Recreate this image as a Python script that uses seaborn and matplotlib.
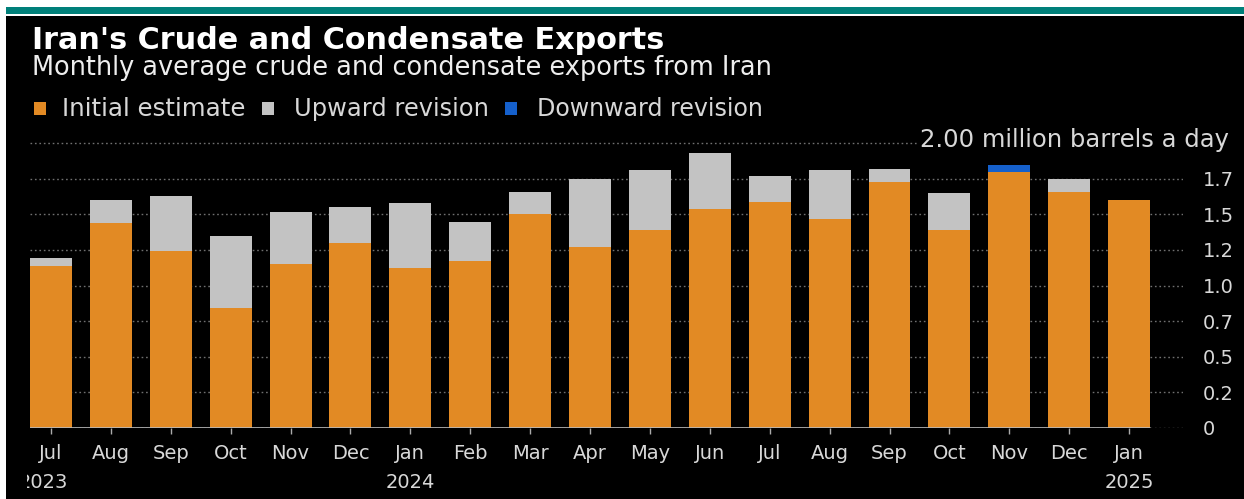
import numpy as np
import pandas as pd
import matplotlib
matplotlib.use("Agg")
import matplotlib.pyplot as plt
import seaborn as sns
from matplotlib.patches import Rectangle
from matplotlib.transforms import Bbox

# ---------------- data ----------------
months = ["Jul", "Aug", "Sep", "Oct", "Nov", "Dec", "Jan", "Feb", "Mar", "Apr",
          "May", "Jun", "Jul", "Aug", "Sep", "Oct", "Nov", "Dec", "Jan"]
year_labels = {0: "2023", 6: "2024", 18: "2025"}
initial = [1.14, 1.44, 1.24, 0.84, 1.15, 1.30, 1.12, 1.17, 1.50, 1.27,
           1.39, 1.54, 1.59, 1.47, 1.73, 1.39, 1.85, 1.66, 1.60]
revised = [1.19, 1.60, 1.63, 1.35, 1.52, 1.55, 1.58, 1.45, 1.66, 1.75,
           1.81, 1.93, 1.77, 1.81, 1.82, 1.65, 1.80, 1.75, 1.60]
ytick_vals = [0, 0.25, 0.5, 0.75, 1.0, 1.25, 1.5, 1.75]
ytick_labels = ["0", "0.2", "0.5", "0.7", "1.0", "1.2", "1.5", "1.7"]
legend_labels = ["Initial estimate", "Upward revision", "Downward revision"]

ORANGE = "#E28A24"
GREY = "#C3C3C3"
BLUE = "#1560CC"
TEAL = "#00807A"
TXT = "#D8D8D8"

W, H = 1244, 499
sns.set_theme(style="dark")
plt.rcParams["font.family"] = ["DejaVu Sans"]

fig = plt.figure(figsize=(W / 100, H / 100), dpi=100, facecolor="white")

def fx(x):
    return x / W

def fy(y):
    return 1 - y / H

# background panels
fig.patches.append(Rectangle((fx(6), 0), 1 - fx(6), fy(16), transform=fig.transFigure,
                             facecolor="black", edgecolor="none", zorder=-10))
fig.patches.append(Rectangle((fx(6), fy(14)), 1 - fx(6), 7 / H, transform=fig.transFigure,
                             facecolor=TEAL, edgecolor="none", zorder=-10))

ax_left, ax_right, ax_bottom, ax_top = 30, 1183, 427.7, 143.3
ax = fig.add_axes([fx(ax_left), fy(ax_bottom), (ax_right - ax_left) / W, (ax_bottom - ax_top) / H])
ax.set_facecolor("none")
ax.set_zorder(1)

ini = np.array(initial)
rev = np.array(revised)
kind = np.where(rev > ini, "up", np.where(rev < ini, "down", "same"))
df = pd.DataFrame({"idx": np.arange(len(months)),
                   "low": np.minimum(ini, rev),
                   "high": np.maximum(ini, rev),
                   "kind": kind})
order = list(range(len(months)))

sns.barplot(data=df, x="idx", y="high", hue="kind", order=order,
            palette={"up": GREY, "down": BLUE, "same": ORANGE},
            dodge=False, width=0.7, saturation=1, linewidth=0, legend=False, ax=ax)
sns.barplot(data=df, x="idx", y="low", order=order, color=ORANGE,
            width=0.7, saturation=1, linewidth=0, ax=ax)

ax.set_xlim(-0.35, 18.9)
ax.set_ylim(0, 2.0)
for s in ax.spines.values():
    s.set_visible(False)
ax.set_xlabel("")
ax.set_ylabel("")

# grid
ax.grid(False)
for v in ytick_vals:
    ax.axhline(v, color="#707070", lw=1, ls=(0, (1.2, 2)), zorder=0)
ax.axhline(2.0, xmin=0, xmax=(918 - ax_left) / (ax_right - ax_left),
           color="#707070", lw=1, ls=(0, (1.2, 2)), zorder=0, clip_on=False)
ax.axhline(0, xmin=0, xmax=(1150 - ax_left) / (ax_right - ax_left),
           color="#BBBBBB", lw=1.2, zorder=3)

# ticks
ax.set_xticks(order)
ax.set_xticklabels(months)
ax.tick_params(axis="x", bottom=True, length=4, width=1, color="#AAAAAA",
               labelsize=14, labelcolor=TXT, pad=8)
ax.yaxis.tick_right()
ax.set_yticks(ytick_vals)
ax.set_yticklabels(ytick_labels)
ax.tick_params(axis="y", right=False, left=False, length=0, labelsize=14,
               labelcolor=TXT, pad=14)

renderer = fig.canvas.get_renderer()

def fit_text(s, x0, x1, ybase, **kw):
    t = fig.text(fx(x0), fy(ybase), s, ha="left", va="baseline", fontsize=12, **kw)
    w = t.get_window_extent(renderer).width
    t.set_fontsize(12 * (x1 - x0) / w)
    return t

fit_text("Iran's Crude and Condensate Exports", 32, 663, 49, color="white", fontweight="bold")
fit_text("Monthly average crude and condensate exports from Iran", 32, 770, 75, color="#EEEEEE")

# legend
leg_sq = [(34, ORANGE), (262, GREY), (505, BLUE)]
leg_txt = [(62, 245), (294, 488), (537, 763)]
for (sx, col), (t0, t1), lab in zip(leg_sq, leg_txt, legend_labels):
    fig.patches.append(Rectangle((fx(sx), fy(115)), 12 / W, 13 / H, transform=fig.transFigure,
                                 facecolor=col, edgecolor="none"))
    fit_text(lab, t0, t1, 116, color=TXT)

# unit label
fit_text("2.00 million barrels a day", 920, 1227, 147, color=TXT)

# year labels
clip = Bbox.from_extents(27, 0, W, H)
for i, yl in year_labels.items():
    xc = 51 + i * 59.9
    if i == 0:
        xc = 43
    t = fig.text(fx(xc), fy(488), yl, ha="center", va="baseline", fontsize=14, color=TXT)
    t.set_clip_box(clip)
    t.set_clip_on(True)

fig.savefig("out.png", dpi=100, facecolor="white")
